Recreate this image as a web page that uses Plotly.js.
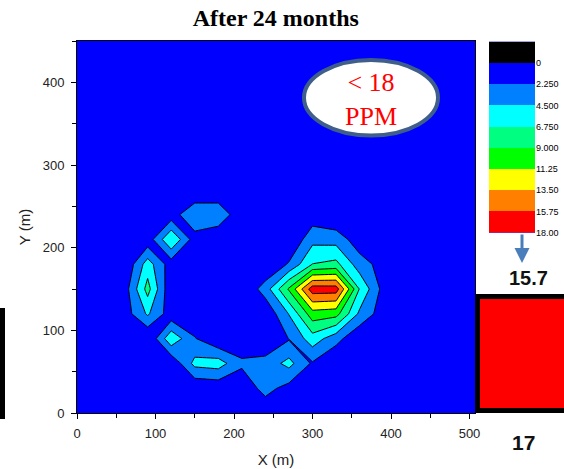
<!DOCTYPE html>
<html>
<head>
<meta charset="utf-8">
<script src="https://cdn.plot.ly/plotly-3.0.1.min.js"></script>
<style>html,body{margin:0;padding:0;background:#fff;}#chart{width:564px;height:469px;}</style>
</head>
<body>
<div id="chart"></div>
<script>
// ---- grid data (concentration, PPM), 30 m grid ----
const xBlob = [210, 240, 270, 300, 330, 360, 390, 420];
const yBlob = [30, 60, 90, 120, 150, 180, 210, 240, 270];
const zBlob = [
  [0.5, 0.5, 0.5, 0.5,  0.5,  0.5,  0.5,  0.5],
  [0.5, 0.5, 0.5, 2.0,  0.0,  0.5,  0.5,  0.5],
  [0.5, 0.5, 2.3, 5.75, 3.1,  0.27, 0.5,  0.5],
  [0.0, 0.38,4.6, 10.3, 9.86, 4.03, 1.06, 0.5],
  [0.0, 3.35,9.3, 17.0, 16.9, 6.6,  1.5,  0.5],
  [0.5, 0.0, 2.5, 6.8,  7.4,  3.27, 1.36, 0.5],
  [0.5, 0.5, 0.0, 3.8,  3.6,  0.92, 0.5,  0.5],
  [0.5, 0.5, 0.0, 0.9,  0.0,  0.5,  0.5,  0.5],
  [0.5, 0.5, 0.5, 0.5,  0.5,  0.5,  0.5,  0.5]
];

const xBand = [60, 90, 120, 150, 180, 210, 240, 270, 300, 330];
const yBand = [0, 30, 60, 90, 120, 150];
const zBand = [
  [0.5, 0.5, 0.5,  0.5,  0.5,  0.5,  0.75, 0.5,  0.5,  0.5],
  [0.5, 0.5, 0.5,  0.28, 0.58, 0.85, 3.0,  1.46, 0.5,  0.5],
  [0.5, 0.5, 0.26, 5.2,  5.6,  2.6,  3.2,  5.2,  1.92, 0.5],
  [0.5, 0.0, 6.23, 2.4,  0.17, 0.85, 0.0,  2.04, 0.5,  0.5],
  [0.5, 0.5, 0.68, 0.5,  0.5,  0.5,  0.5,  0.5,  0.5,  0.5],
  [0.5, 0.5, 0.5,  0.5,  0.5,  0.5,  0.5,  0.5,  0.5,  0.5]
];

const xEllipse = [30, 60, 90, 120, 150];
const yEllipse = [60, 90, 120, 150, 180, 210, 240];
const zEllipse = [
  [0.5, 0.5, 0.5,  0.5, 0.5],
  [0.5, 0.5, 0.0,  0.5, 0.5],
  [0.5, 1.0, 4.82, 1.0, 0.5],
  [0.5, 1.0, 7.6,  0.3, 0.5],
  [0.5, 0.0, 5.6,  1.0, 0.5],
  [0.5, 0.5, 0.8,  0.5, 0.5],
  [0.5, 0.5, 0.5,  0.5, 0.5]
];

const xDiamond = [60, 90, 120, 150, 180];
const yDiamond = [150, 180, 210, 240, 270];
const zDiamond = [
  [0.5, 0.5, 0.5, 0.5, 0.5],
  [0.5, 0.5, 1.1, 0.5, 0.5],
  [0.5, 0.9, 6.7, 1.1, 0.5],
  [0.5, 0.5, 0.9, 0.5, 0.5],
  [0.5, 0.5, 0.5, 0.5, 0.5]
];

const xHexagon = [90, 120, 150, 180, 210, 240];
const yHexagon = [180, 210, 240, 270, 300];
const zHexagon = [
  [0.5, 0.5,  0.5,   0.5,  0.5, 0.5],
  [0.5, 0.5,  1.375, 0.48, 0.5, 0.5],
  [0.5, 1.24, 4.0,   3.8,  0.7, 0.5],
  [0.5, 0.5,  0.25,  0.48, 0.5, 0.5],
  [0.5, 0.5,  0.5,   0.5,  0.5, 0.5]
];

// ---- colour levels ----
const levelStart = 2.25, levelEnd = 15.75, levelStep = 2.25;
const bandMids = [-1.125, 1.125, 3.375, 5.625, 7.875, 10.125, 12.375, 14.625, 16.875];
const bandColors = ['#000000', '#0000ff', '#0080ff', '#00ffff', '#00ff80', '#00ff00', '#ffff00', '#ff8000', '#ff0000'];
const levelTicks = [0, 2.25, 4.5, 6.75, 9, 11.25, 13.5, 15.75, 18];
const levelTickText = ['0', '2.250', '4.500', '6.750', '9.000', '11.25', '13.50', '15.75', '18.00'];

// contour fill scale: first entry (below 2.25) transparent so the blue plot background shows
const fillColors = ['rgba(0,0,255,0)'].concat(bandColors.slice(2));
const contourScale = fillColors.map((c, i) => [i / (fillColors.length - 1), c]);
const barScale = bandColors.map((c, i) => [i / (bandColors.length - 1), c]);

const grids = [
  [xBlob, yBlob, zBlob],
  [xBand, yBand, zBand],
  [xEllipse, yEllipse, zEllipse],
  [xDiamond, yDiamond, zDiamond],
  [xHexagon, yHexagon, zHexagon]
];

const data = grids.map(g => ({
  type: 'contour', x: g[0], y: g[1], z: g[2],
  autocontour: false, zauto: false, zmin: 0, zmax: 18,
  contours: {start: levelStart, end: levelEnd, size: levelStep, coloring: 'fill', showlines: true},
  colorscale: contourScale,
  line: {color: '#000000', width: 1, smoothing: 0},
  showscale: false, hoverinfo: 'skip', xaxis: 'x', yaxis: 'y'
}));

data.push({
  type: 'heatmap', x: [0], y: bandMids, z: bandMids.map(v => [v]),
  zmin: bandMids[0], zmax: bandMids[bandMids.length - 1],
  colorscale: barScale, showscale: false, hoverinfo: 'skip',
  xaxis: 'x2', yaxis: 'y2'
});

const W = 485, H = 372; // plot area in px (margins l=77, t=41)
const px = v => (v - 77) / W;
const py = v => (413 - v) / H;

const layout = {
  width: 564, height: 469,
  margin: {l: 77, r: 2, t: 41, b: 56},
  paper_bgcolor: '#ffffff',
  plot_bgcolor: '#0000ff',
  showlegend: false,
  title: {
    text: '<b>After 24 months</b>',
    font: {family: 'Liberation Serif, serif', size: 24, color: '#000'},
    xref: 'container', x: 0.489, xanchor: 'center',
    yref: 'container', y: 0.962, yanchor: 'middle'
  },
  xaxis: {
    domain: [0, 0.8206], range: [0, 507], dtick: 100, tick0: 0,
    ticks: 'outside', ticklen: 5, tickwidth: 1, tickcolor: '#000',
    minor: {dtick: 50, ticks: 'outside', ticklen: 4, tickcolor: '#000'},
    showline: true, linecolor: '#000', linewidth: 1, mirror: true,
    showgrid: false, zeroline: false, ticklabelstandoff: 3,
    tickfont: {family: 'Liberation Sans, Arial', size: 13, color: '#222'},
    title: {text: 'X (m)', font: {family: 'Liberation Sans, Arial', size: 15, color: '#222'}, standoff: 14}
  },
  yaxis: {
    domain: [0, 1], range: [0, 450], dtick: 100, tick0: 0,
    ticks: 'outside', ticklen: 5, tickwidth: 1, tickcolor: '#000',
    minor: {dtick: 50, ticks: 'outside', ticklen: 4, tickcolor: '#000'},
    showline: true, linecolor: '#000', linewidth: 1, mirror: true,
    showgrid: false, zeroline: false, ticklabelstandoff: 4,
    tickfont: {family: 'Liberation Sans, Arial', size: 13, color: '#222'},
    title: {text: 'Y (m)', font: {family: 'Liberation Sans, Arial', size: 15, color: '#222'}, standoff: 8}
  },
  xaxis2: {domain: [px(489), px(535)], anchor: 'y2', range: [-0.5, 0.5], visible: false, fixedrange: true},
  yaxis2: {
    domain: [py(232.7), py(41.7)], anchor: 'x2', side: 'right',
    range: [18, -2.25], tickvals: levelTicks, ticktext: levelTickText,
    ticks: '', showline: false, showgrid: false, zeroline: false,
    tickfont: {family: 'Liberation Sans, Arial', size: 9, color: '#000'}
  },
  shapes: [
    {type: 'circle', xref: 'paper', yref: 'paper',
     x0: px(304), x1: px(438), y0: py(135.5), y1: py(60),
     line: {color: '#3f5f8a', width: 4}, fillcolor: '#ffffff', layer: 'above'},
    {type: 'rect', xref: 'paper', yref: 'paper',
     x0: px(477.5), x1: px(575), y0: py(410.5), y1: py(296.5),
     line: {color: '#000', width: 5}, fillcolor: '#ff0000', layer: 'above'},
    {type: 'rect', xref: 'paper', yref: 'paper',
     x0: px(0), x1: px(5), y0: py(419), y1: py(308),
     line: {width: 0}, fillcolor: '#000', layer: 'above'}
  ],
  annotations: [
    {xref: 'paper', yref: 'paper', x: px(371), y: py(99), text: '&lt; 18<br>PPM', showarrow: false,
     font: {family: 'Liberation Serif, serif', size: 26, color: '#ff0000'}, xanchor: 'center', yanchor: 'middle'},
    {xref: 'paper', yref: 'paper', x: px(522), y: py(263), ax: 0, ay: -30, text: '', showarrow: true,
     arrowhead: 2, arrowsize: 1, arrowwidth: 3, arrowcolor: '#4a7ebb', standoff: 0},
    {xref: 'paper', yref: 'paper', x: px(528), y: py(278), text: '<b>15.7</b>', showarrow: false,
     font: {family: 'Liberation Sans, Arial', size: 20, color: '#111'}, xanchor: 'center', yanchor: 'middle'},
    {xref: 'paper', yref: 'paper', x: px(523), y: py(442), text: '<b>17</b>', showarrow: false,
     font: {family: 'Liberation Sans, Arial', size: 21, color: '#111'}, xanchor: 'center', yanchor: 'middle'}
  ]
};

Plotly.newPlot('chart', data, layout, {displayModeBar: false, staticPlot: true});
</script>
</body>
</html>
